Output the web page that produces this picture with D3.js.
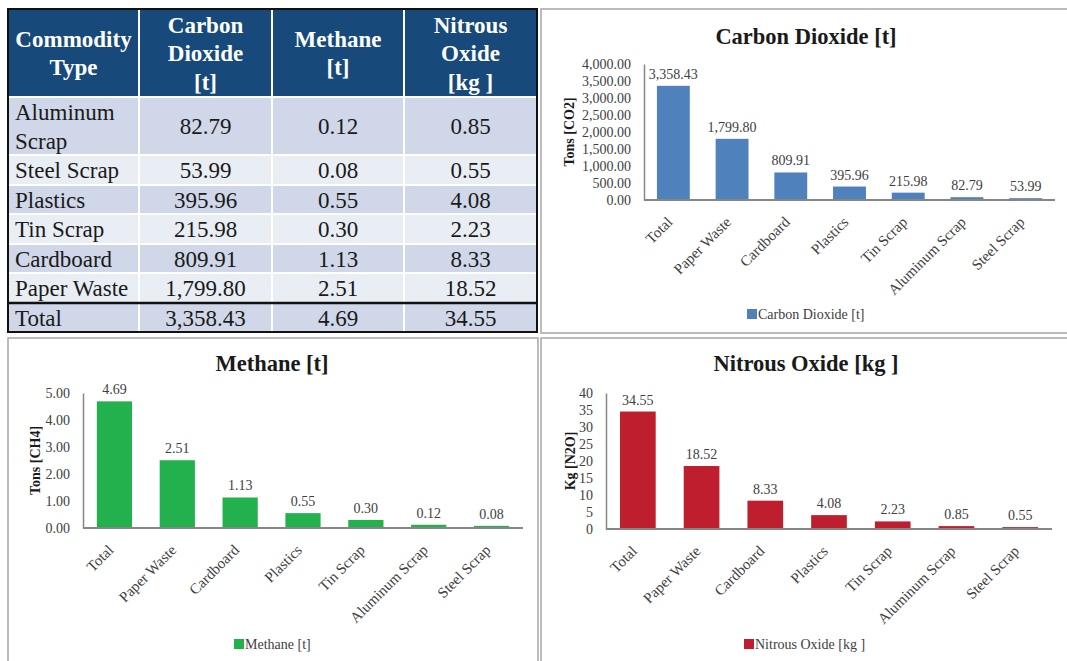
<!DOCTYPE html>
<html lang="en">

<head>
    <meta charset="UTF-8">
    <title>Greenhouse Gas Emissions by Commodity</title>
    <style>
        body {
            margin: 0;
            padding: 0;
            background: #ffffff;
            font-family: "Liberation Serif", "Times New Roman", serif;
        }

        svg text {
            font-family: "Liberation Serif", "Times New Roman", serif;
        }

        .panel {
            fill: #ffffff;
            stroke: #a6a6a6;
            stroke-width: 1.5;
        }

        .chart-title {
            font-size: 22.5px;
            font-weight: 700;
            fill: #1a1a1a;
        }

        .axis-label {
            font-size: 14px;
            font-weight: 700;
            fill: #1a1a1a;
        }

        .tick text,
        .bar-label {
            font-size: 14px;
            fill: #404040;
        }

        .cat-label {
            font-size: 15px;
            fill: #404040;
        }

        .legend-text {
            font-size: 14px;
            fill: #404040;
        }
    </style>
</head>

<body>
    <svg id="chart" width="1067" height="661"></svg>

    <script src="https://cdnjs.cloudflare.com/ajax/libs/d3/7.9.0/d3.min.js"></script>
    <script>
        // table rows (same order as the source table)
        const tableTypes = ['Aluminum Scrap', 'Steel Scrap', 'Plastics', 'Tin Scrap', 'Cardboard', 'Paper Waste'];
        const co2Values = [82.79, 53.99, 395.96, 215.98, 809.91, 1799.80];
        const ch4Values = [0.12, 0.08, 0.55, 0.30, 1.13, 2.51];
        const n2oValues = [0.85, 0.55, 4.08, 2.23, 8.33, 18.52];
        const totals = [3358.43, 4.69, 34.55];
        const tableHeaders = [
            ['Commodity', 'Type'],
            ['Carbon', 'Dioxide', '[t]'],
            ['Methane', '[t]'],
            ['Nitrous', 'Oxide', '[kg ]']
        ];

        // bar charts are sorted by size, total first
        const chartOrder = ['Total', 'Paper Waste', 'Cardboard', 'Plastics', 'Tin Scrap', 'Aluminum Scrap', 'Steel Scrap'];

        const svg = d3.select('#chart');

        // ---------- table ----------
        const colEdges = [8, 139, 272, 404, 537];
        const rowEdges = [9, 97, 155, 185, 214, 244, 273, 303, 332];
        const fmt2 = d3.format(',.2f');

        const rows = tableTypes.map((t, i) => [t, fmt2(co2Values[i]), fmt2(ch4Values[i]), fmt2(n2oValues[i])]);
        rows.push(['Total', fmt2(totals[0]), fmt2(totals[1]), fmt2(totals[2])]);

        const table = svg.append('g').attr('class', 'table');

        // header cells
        tableHeaders.forEach((lines, c) => {
            const x0 = colEdges[c], x1 = colEdges[c + 1];
            table.append('rect')
                .attr('x', x0).attr('y', rowEdges[0])
                .attr('width', x1 - x0).attr('height', rowEdges[1] - rowEdges[0])
                .attr('fill', '#17497a')
                .attr('stroke', '#ffffff').attr('stroke-width', 2);
            const cy = (rowEdges[0] + rowEdges[1]) / 2;
            const lh = 28.5;
            lines.forEach((line, k) => {
                table.append('text')
                    .attr('x', (x0 + x1) / 2)
                    .attr('y', cy + (k - (lines.length - 1) / 2) * lh)
                    .attr('dy', '0.35em')
                    .attr('text-anchor', 'middle')
                    .attr('fill', '#ffffff')
                    .attr('font-size', 23)
                    .attr('font-weight', 700)
                    .text(line);
            });
        });

        // body cells
        rows.forEach((row, r) => {
            const y0 = rowEdges[r + 1], y1 = rowEdges[r + 2];
            const shade = r % 2 === 0 ? '#cfd7e8' : '#e9edf4';
            row.forEach((val, c) => {
                const x0 = colEdges[c], x1 = colEdges[c + 1];
                table.append('rect')
                    .attr('x', x0).attr('y', y0)
                    .attr('width', x1 - x0).attr('height', y1 - y0)
                    .attr('fill', shade)
                    .attr('stroke', '#ffffff').attr('stroke-width', 2);

                // long names wrap onto two lines in the first column
                const lines = (c === 0 && val === 'Aluminum Scrap') ? ['Aluminum', 'Scrap'] : [val];
                lines.forEach((line, k) => {
                    table.append('text')
                        .attr('x', c === 0 ? x0 + 7 : (x0 + x1) / 2)
                        .attr('y', (y0 + y1) / 2 + (k - (lines.length - 1) / 2) * 29)
                        .attr('dy', '0.35em')
                        .attr('text-anchor', c === 0 ? 'start' : 'middle')
                        .attr('fill', '#1a1a1a')
                        .attr('font-size', 23)
                        .text(line);
                });
            });
        });

        // outer border + line above the total row
        table.append('rect')
            .attr('x', colEdges[0]).attr('y', rowEdges[0])
            .attr('width', colEdges[4] - colEdges[0]).attr('height', rowEdges[8] - rowEdges[0])
            .attr('fill', 'none').attr('stroke', '#111').attr('stroke-width', 2);
        table.append('line')
            .attr('x1', colEdges[0]).attr('x2', colEdges[4])
            .attr('y1', rowEdges[7]).attr('y2', rowEdges[7])
            .attr('stroke', '#111').attr('stroke-width', 2.5);

        // ---------- bar charts ----------
        function drawBarChart(cfg) {
            const g = svg.append('g');

            g.append('rect')
                .attr('class', 'panel')
                .attr('x', cfg.panel[0]).attr('y', cfg.panel[1])
                .attr('width', cfg.panel[2]).attr('height', cfg.panel[3]);

            const values = [cfg.total].concat(chartOrder.slice(1).map(name => cfg.values[tableTypes.indexOf(name)]));

            const x = d3.scaleBand()
                .domain(chartOrder)
                .range([cfg.left, cfg.right])
                .paddingInner(0.44)
                .paddingOuter(0.22);

            const y = d3.scaleLinear()
                .domain([0, cfg.max])
                .range([cfg.bottom, cfg.top]);

            g.append('text')
                .attr('class', 'chart-title')
                .attr('x', cfg.titleX).attr('y', cfg.titleY)
                .attr('text-anchor', 'middle')
                .text(cfg.title);

            // y axis
            const yAxis = g.append('g')
                .attr('transform', `translate(${cfg.left},0)`)
                .call(d3.axisLeft(y)
                    .tickValues(d3.range(0, cfg.max + cfg.step / 2, cfg.step))
                    .tickFormat(cfg.tickFormat)
                    .tickSize(0)
                    .tickPadding(13));
            yAxis.select('.domain').attr('stroke', '#868686').attr('stroke-width', 1.5);
            yAxis.selectAll('.tick text').attr('fill', '#404040');

            g.append('text')
                .attr('class', 'axis-label')
                .attr('transform', `translate(${cfg.labelX},${(cfg.top + cfg.bottom) / 2}) rotate(-90)`)
                .attr('text-anchor', 'middle')
                .attr('dy', '0.35em')
                .text(cfg.yLabel);

            // bars
            g.selectAll('.bar')
                .data(values)
                .enter().append('rect')
                .attr('class', 'bar')
                .attr('x', (d, i) => x(chartOrder[i]))
                .attr('y', d => y(d))
                .attr('width', x.bandwidth())
                .attr('height', d => cfg.bottom - y(d))
                .attr('fill', cfg.color);

            g.selectAll('.bar-label')
                .data(values)
                .enter().append('text')
                .attr('class', 'bar-label')
                .attr('x', (d, i) => x(chartOrder[i]) + x.bandwidth() / 2)
                .attr('y', d => y(d) - 7)
                .attr('text-anchor', 'middle')
                .text(d => fmt2(d));

            // x axis line
            g.append('line')
                .attr('x1', cfg.left).attr('x2', cfg.right)
                .attr('y1', cfg.bottom).attr('y2', cfg.bottom)
                .attr('stroke', '#868686').attr('stroke-width', 2);

            g.selectAll('.cat-label')
                .data(chartOrder)
                .enter().append('text')
                .attr('class', 'cat-label')
                .attr('text-anchor', 'end')
                .attr('transform', d => `translate(${x(d) + x.bandwidth() / 2},${cfg.bottom + 23}) rotate(-45)`)
                .text(d => d);

            // legend
            g.append('rect')
                .attr('x', cfg.legendX).attr('y', cfg.legendY - 5)
                .attr('width', 10).attr('height', 10)
                .attr('fill', cfg.color);
            g.append('text')
                .attr('class', 'legend-text')
                .attr('x', cfg.legendX + 11).attr('y', cfg.legendY)
                .attr('dy', '0.35em')
                .text(cfg.title);
        }

        drawBarChart({
            title: 'Carbon Dioxide [t]', yLabel: 'Tons [CO2]',
            values: co2Values, total: totals[0], max: 4000, step: 500,
            tickFormat: d3.format(',.2f'), color: '#4f81bd',
            panel: [541, 9, 540, 324],
            left: 644, right: 1055, top: 64, bottom: 200,
            titleX: 806, titleY: 44, labelX: 569,
            legendX: 747, legendY: 314
        });

        drawBarChart({
            title: 'Methane [t]', yLabel: 'Tons [CH4]',
            values: ch4Values, total: totals[1], max: 5, step: 1,
            tickFormat: d3.format('.2f'), color: '#22b14c',
            panel: [8, 338, 530, 340],
            left: 83, right: 523, top: 393, bottom: 528,
            titleX: 272, titleY: 371, labelX: 35,
            legendX: 234, legendY: 644
        });

        drawBarChart({
            title: 'Nitrous Oxide [kg ]', yLabel: 'Kg [N2O]',
            values: n2oValues, total: totals[2], max: 40, step: 5,
            tickFormat: d3.format('d'), color: '#be1e2d',
            panel: [541, 338, 540, 340],
            left: 606, right: 1052, top: 393, bottom: 529,
            titleX: 806, titleY: 371, labelX: 570,
            legendX: 744, legendY: 644
        });
    </script>
</body>

</html>
